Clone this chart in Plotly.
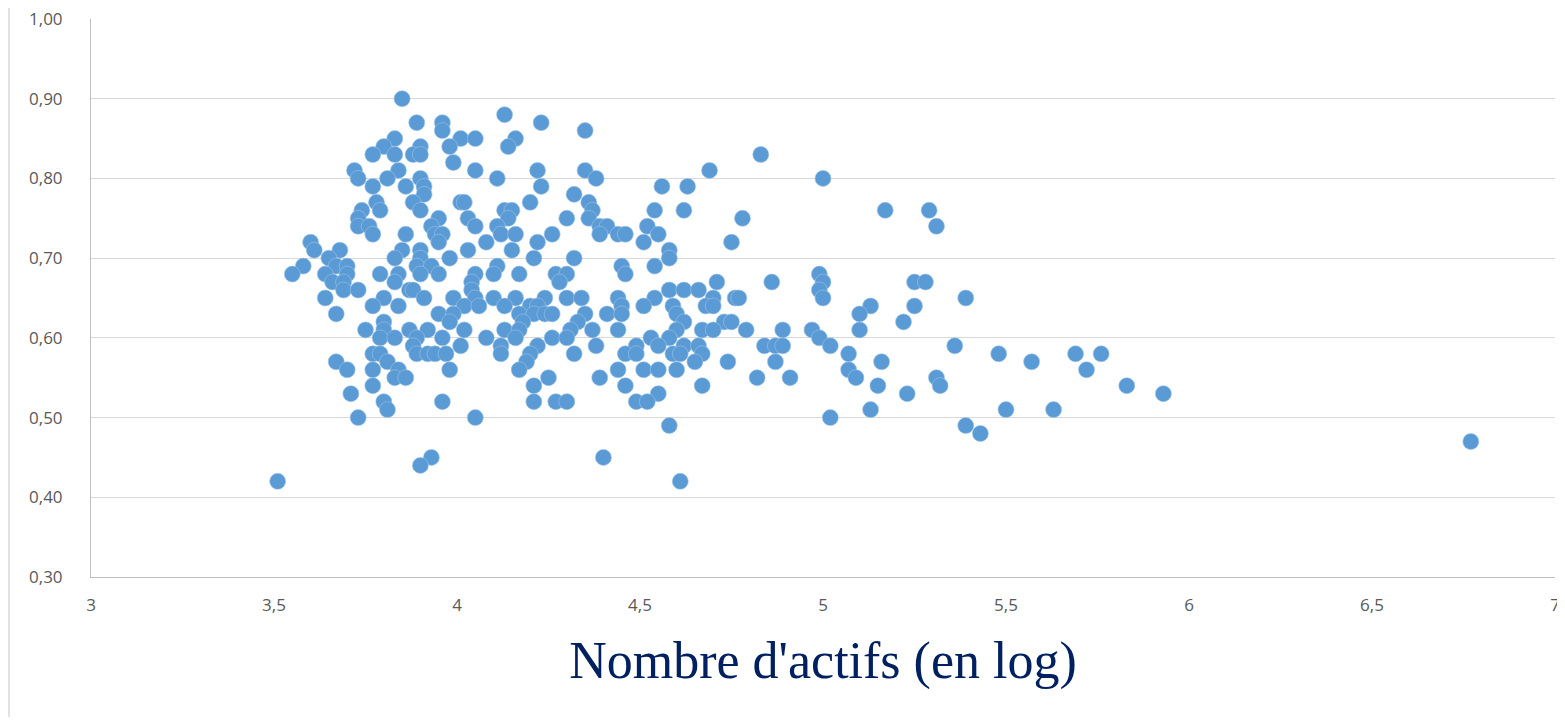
import plotly.graph_objects as go

# Nombre d'actifs (en log) vs ratio
log_actifs = [
    3.85,
    4.13,
    3.89, 3.96, 4.23,
    3.96, 4.35,
    3.83, 4.01, 4.05, 4.16,
    3.80, 3.90, 3.98, 4.14,
    3.77, 3.83, 3.88, 3.90, 4.83,
    3.99,
    3.72, 3.84, 4.05, 4.22, 4.35, 4.69,
    3.73, 3.81, 3.90, 4.11, 4.38, 5.00,
    3.77, 3.86, 3.91, 4.23, 4.56, 4.63,
    3.91, 4.32,
    3.78, 3.88, 4.01, 4.02, 4.20, 4.36,
    3.74, 3.79, 3.90, 4.13, 4.15, 4.37, 4.54, 4.62, 5.17, 5.29,
    3.73, 3.95, 4.03, 4.14, 4.30, 4.36, 4.78,
    3.73, 3.76, 3.93, 4.05, 4.11, 4.39, 4.41, 4.52, 5.31,
    3.77, 3.86, 3.94, 3.96, 4.12, 4.16, 4.26, 4.39, 4.44, 4.46, 4.55,
    3.60, 3.95, 4.08, 4.22, 4.51, 4.75,
    3.61, 3.68, 3.85, 3.90, 4.03, 4.15, 4.58,
    3.65, 3.83, 3.90, 3.98, 4.21, 4.32, 4.58,
    3.58, 3.67, 3.70, 3.89, 3.93, 4.11, 4.45, 4.54,
    3.55, 3.64, 3.70, 3.79, 3.84, 3.90, 3.95, 4.05, 4.10, 4.17, 4.27, 4.30, 4.46, 4.99,
    3.66, 3.69, 3.83, 4.04, 4.28, 4.71, 4.86, 5.00, 5.25, 5.28,
    3.69, 3.73, 3.87, 3.88, 4.04, 4.58, 4.62, 4.66, 4.99,
    3.64, 3.80, 3.91, 3.99, 4.05, 4.10, 4.16, 4.24, 4.30, 4.34, 4.44, 4.54, 4.70, 4.76, 4.77, 5.00, 5.39,
    3.77, 3.84, 4.02, 4.06, 4.13, 4.20, 4.22, 4.45, 4.51, 4.59, 4.68, 4.70, 5.13, 5.25,
    3.67, 3.95, 3.99, 4.17, 4.21, 4.24, 4.26, 4.35, 4.41, 4.45, 4.60, 5.10,
    3.80, 3.98, 4.18, 4.33, 4.62, 4.73, 4.75, 5.22,
    3.75, 3.80, 3.87, 3.92, 4.02, 4.13, 4.17, 4.31, 4.37, 4.44, 4.60, 4.67, 4.70, 4.79, 4.89, 4.97, 5.10,
    3.79, 3.83, 3.89, 3.96, 4.08, 4.16, 4.26, 4.30, 4.53, 4.58, 4.99,
    3.88, 4.01, 4.12, 4.22, 4.38, 4.49, 4.55, 4.62, 4.66, 4.84, 4.87, 4.89, 5.02, 5.36,
    3.77, 3.79, 3.89, 3.92, 3.94, 3.97, 4.12, 4.20, 4.32, 4.46, 4.49, 4.59, 4.61, 4.67, 5.07, 5.48, 5.69, 5.76,
    3.67, 3.81, 4.19, 4.65, 4.74, 4.87, 5.16, 5.57,
    3.70, 3.77, 3.84, 3.98, 4.17, 4.44, 4.51, 4.55, 4.60, 5.07, 5.72,
    3.83, 3.86, 4.25, 4.39, 4.82, 4.91, 5.09, 5.31,
    3.77, 4.21, 4.46, 4.67, 5.15, 5.32, 5.83,
    3.71, 4.55, 5.23, 5.93,
    3.80, 3.96, 4.21, 4.27, 4.30, 4.49, 4.52,
    3.81, 5.13, 5.50, 5.63,
    3.73, 4.05, 5.02,
    4.58, 5.39,
    5.43,
    6.77,
    3.93, 4.40,
    3.90,
    3.51, 4.61,
]

ratio = [
    0.90,
    0.88,
    0.87, 0.87, 0.87,
    0.86, 0.86,
    0.85, 0.85, 0.85, 0.85,
    0.84, 0.84, 0.84, 0.84,
    0.83, 0.83, 0.83, 0.83, 0.83,
    0.82,
    0.81, 0.81, 0.81, 0.81, 0.81, 0.81,
    0.80, 0.80, 0.80, 0.80, 0.80, 0.80,
    0.79, 0.79, 0.79, 0.79, 0.79, 0.79,
    0.78, 0.78,
    0.77, 0.77, 0.77, 0.77, 0.77, 0.77,
    0.76, 0.76, 0.76, 0.76, 0.76, 0.76, 0.76, 0.76, 0.76, 0.76,
    0.75, 0.75, 0.75, 0.75, 0.75, 0.75, 0.75,
    0.74, 0.74, 0.74, 0.74, 0.74, 0.74, 0.74, 0.74, 0.74,
    0.73, 0.73, 0.73, 0.73, 0.73, 0.73, 0.73, 0.73, 0.73, 0.73, 0.73,
    0.72, 0.72, 0.72, 0.72, 0.72, 0.72,
    0.71, 0.71, 0.71, 0.71, 0.71, 0.71, 0.71,
    0.70, 0.70, 0.70, 0.70, 0.70, 0.70, 0.70,
    0.69, 0.69, 0.69, 0.69, 0.69, 0.69, 0.69, 0.69,
    0.68, 0.68, 0.68, 0.68, 0.68, 0.68, 0.68, 0.68, 0.68, 0.68, 0.68, 0.68, 0.68, 0.68,
    0.67, 0.67, 0.67, 0.67, 0.67, 0.67, 0.67, 0.67, 0.67, 0.67,
    0.66, 0.66, 0.66, 0.66, 0.66, 0.66, 0.66, 0.66, 0.66,
    0.65, 0.65, 0.65, 0.65, 0.65, 0.65, 0.65, 0.65, 0.65, 0.65, 0.65, 0.65, 0.65, 0.65, 0.65, 0.65, 0.65,
    0.64, 0.64, 0.64, 0.64, 0.64, 0.64, 0.64, 0.64, 0.64, 0.64, 0.64, 0.64, 0.64, 0.64,
    0.63, 0.63, 0.63, 0.63, 0.63, 0.63, 0.63, 0.63, 0.63, 0.63, 0.63, 0.63,
    0.62, 0.62, 0.62, 0.62, 0.62, 0.62, 0.62, 0.62,
    0.61, 0.61, 0.61, 0.61, 0.61, 0.61, 0.61, 0.61, 0.61, 0.61, 0.61, 0.61, 0.61, 0.61, 0.61, 0.61, 0.61,
    0.60, 0.60, 0.60, 0.60, 0.60, 0.60, 0.60, 0.60, 0.60, 0.60, 0.60,
    0.59, 0.59, 0.59, 0.59, 0.59, 0.59, 0.59, 0.59, 0.59, 0.59, 0.59, 0.59, 0.59, 0.59,
    0.58, 0.58, 0.58, 0.58, 0.58, 0.58, 0.58, 0.58, 0.58, 0.58, 0.58, 0.58, 0.58, 0.58, 0.58, 0.58, 0.58, 0.58,
    0.57, 0.57, 0.57, 0.57, 0.57, 0.57, 0.57, 0.57,
    0.56, 0.56, 0.56, 0.56, 0.56, 0.56, 0.56, 0.56, 0.56, 0.56, 0.56,
    0.55, 0.55, 0.55, 0.55, 0.55, 0.55, 0.55, 0.55,
    0.54, 0.54, 0.54, 0.54, 0.54, 0.54, 0.54,
    0.53, 0.53, 0.53, 0.53,
    0.52, 0.52, 0.52, 0.52, 0.52, 0.52, 0.52,
    0.51, 0.51, 0.51, 0.51,
    0.50, 0.50, 0.50,
    0.49, 0.49,
    0.48,
    0.47,
    0.45, 0.45,
    0.44,
    0.42, 0.42,
]

x_ticks = [3, 3.5, 4, 4.5, 5, 5.5, 6, 6.5, 7]
y_ticks = [0.30, 0.40, 0.50, 0.60, 0.70, 0.80, 0.90, 1.00]

fig = go.Figure(data=go.Scatter(
    x=log_actifs,
    y=ratio,
    mode='markers',
    marker=dict(size=16, color='#5b9bd5', line=dict(width=0.6, color='#9dc3e6')),
    hoverinfo='x+y'
))

# la page html ajoute une marge de 8 px : on la compense
fig.update_layout(
    width=1557,
    height=709,
    margin=dict(l=83, r=10, t=11, b=140),
    paper_bgcolor='white',
    plot_bgcolor='white',
    separators=', ',
    showlegend=False,
    font=dict(family='Open Sans, Calibri, sans-serif', size=17, color='#595959'),
    xaxis=dict(
        range=[3, 7],
        tickvals=x_ticks,
        showgrid=False,
        zeroline=False,
        showline=True,
        linecolor='#bfbfbf',
        linewidth=1,
        ticks='',
        automargin=False,
        ticklabeloverflow='allow',
        ticklabelstandoff=13,
        tickfont=dict(size=17, color='#595959'),
        title=dict(text="Nombre d'actifs (en log)", standoff=26,
                   font=dict(family='Liberation Serif, Times New Roman, serif', size=52, color='#002060')),
    ),
    yaxis=dict(
        range=[0.30, 1.00],
        tickvals=y_ticks,
        tickformat='.2f',
        showgrid=True,
        gridcolor='#d9d9d9',
        gridwidth=1,
        zeroline=False,
        showline=True,
        linecolor='#bfbfbf',
        linewidth=1,
        ticks='',
        automargin=False,
        ticklabeloverflow='allow',
        ticklabelstandoff=24,
        tickfont=dict(size=17, color='#595959'),
    ),
)

# bordure gauche du cadre du graphique
fig.add_shape(type='line', xref='paper', yref='paper',
              x0=-0.056, x1=-0.056, y0=-0.27, y1=1.035,
              line=dict(color='#d9d9d9', width=1.5))

fig.write_html("out.html")
